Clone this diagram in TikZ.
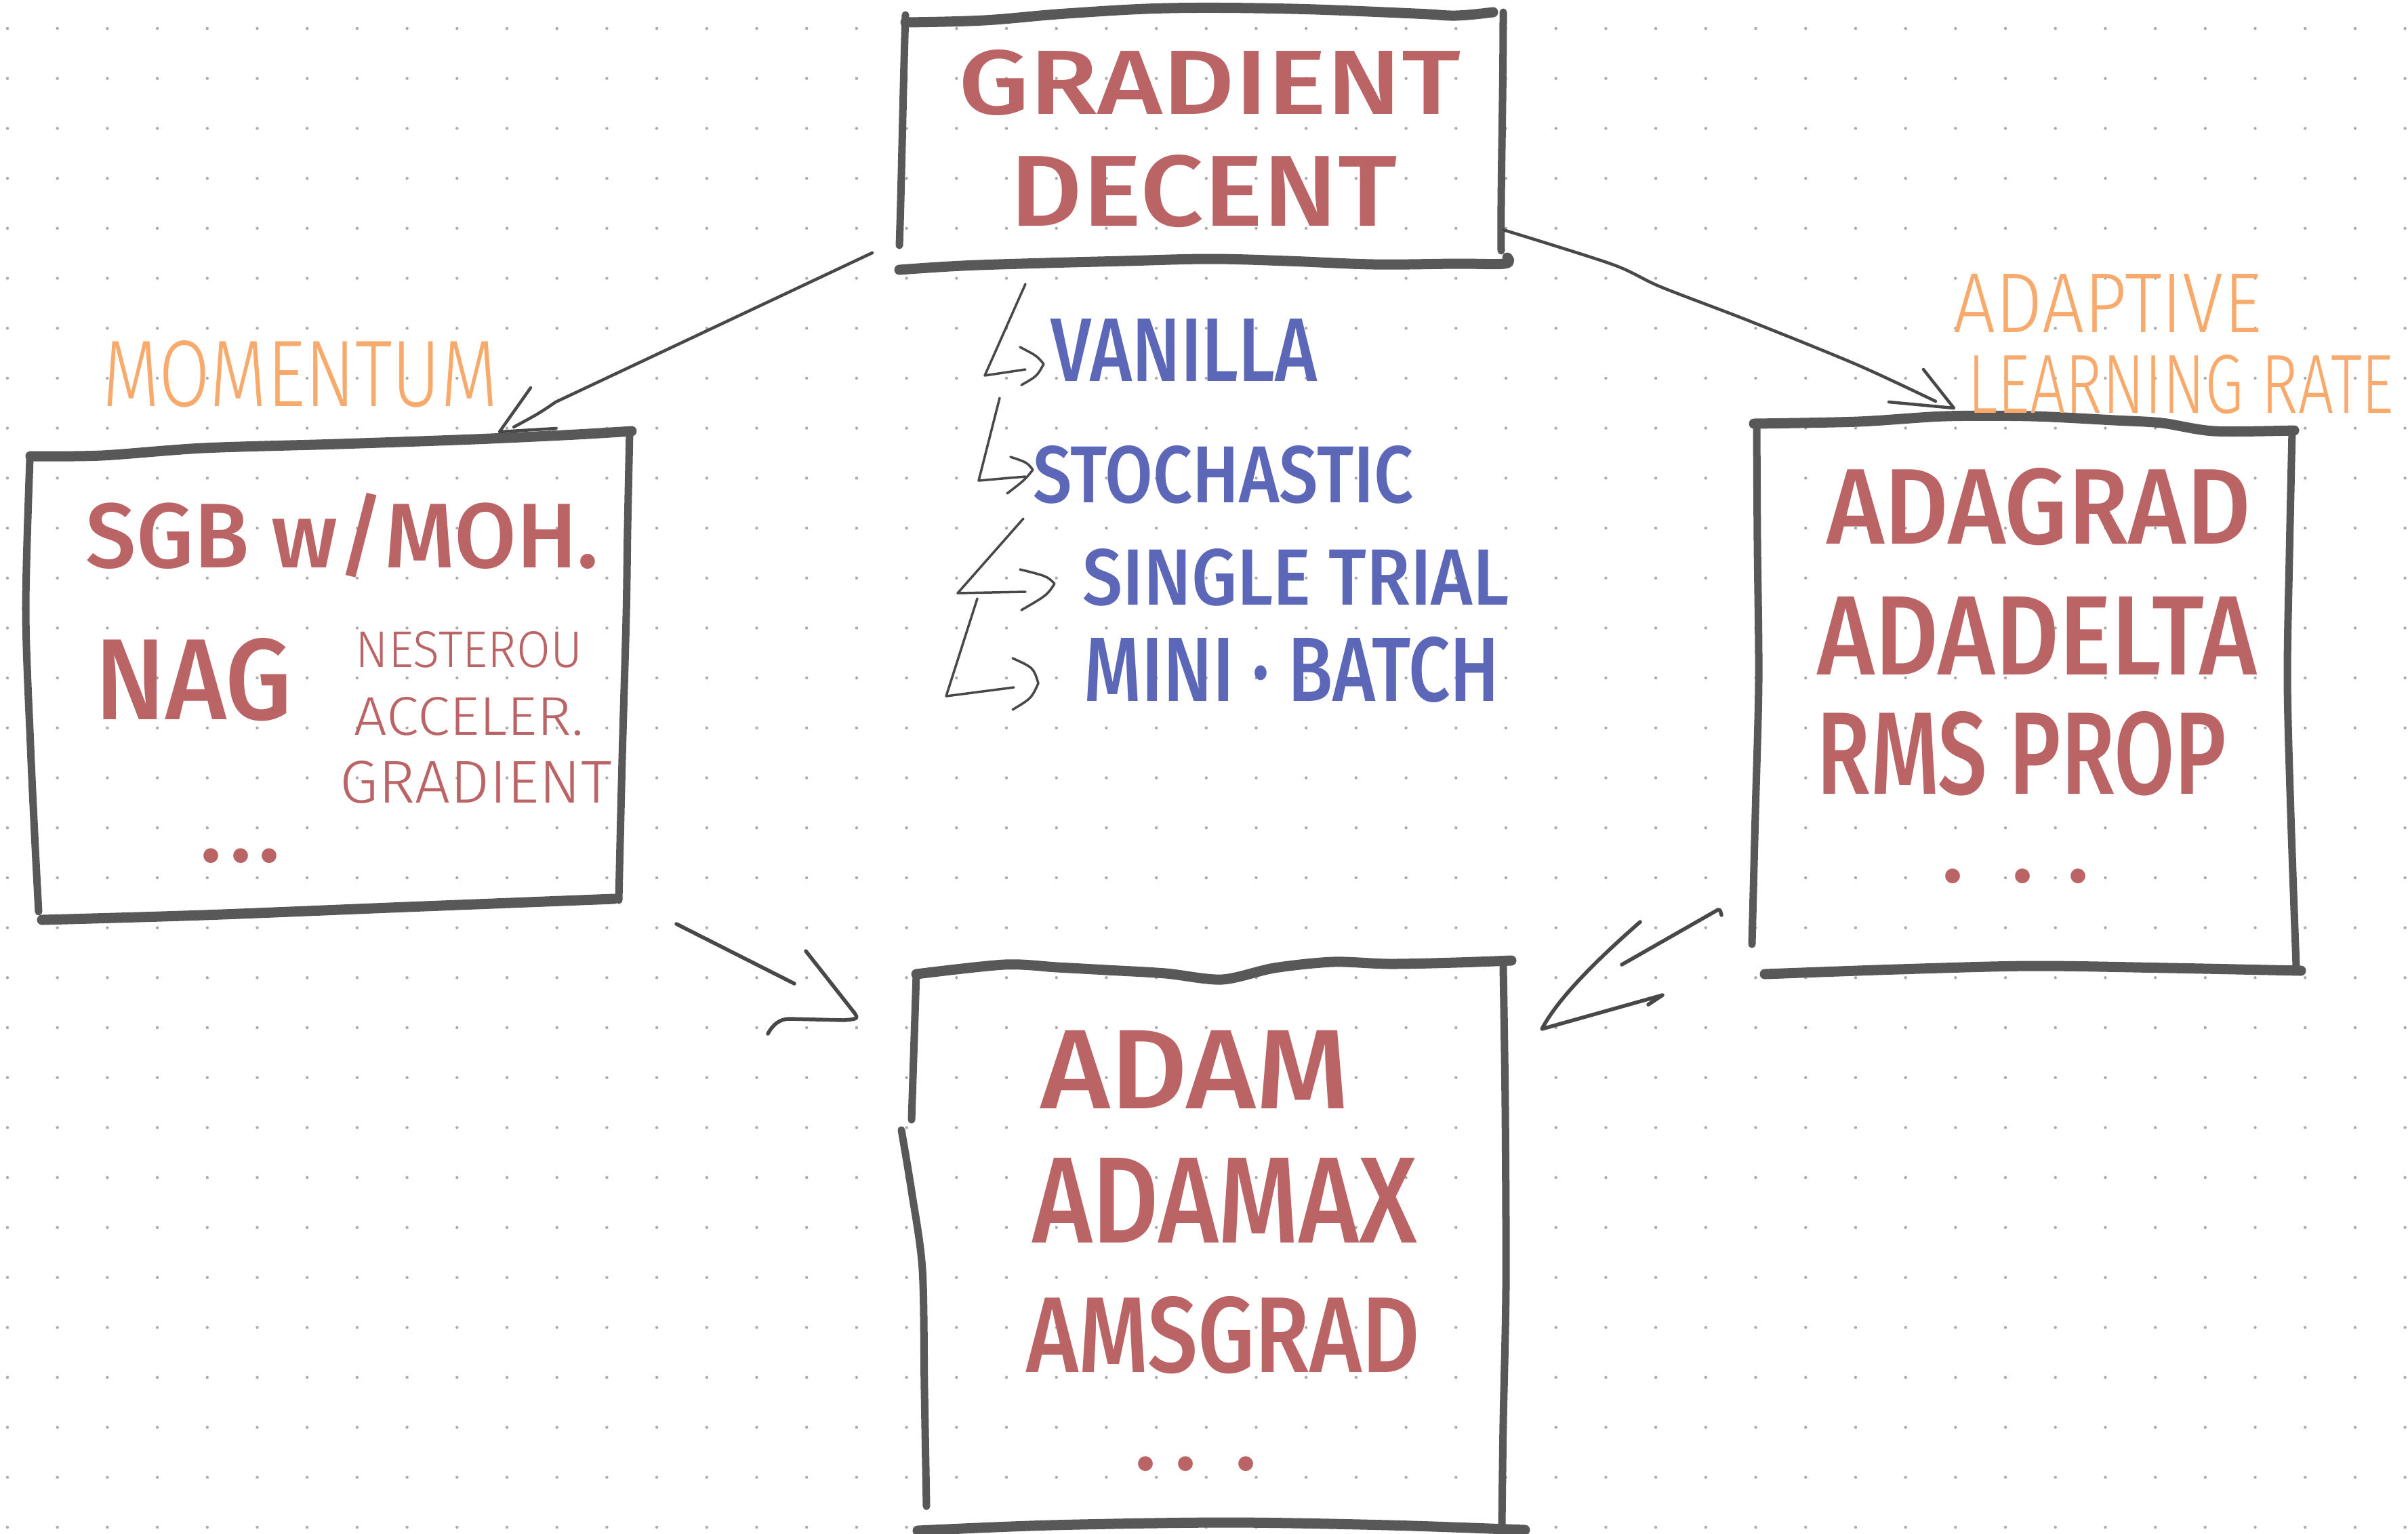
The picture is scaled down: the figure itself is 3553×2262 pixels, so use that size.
\documentclass[tikz,border=0pt]{standalone}
\usepackage{fontspec}
\usepackage{graphicx}
\setmainfont{Fira Sans}
\IfFontExistsTF{Fira Sans Medium}{\newfontfamily\thickf{Fira Sans Medium}}{\newfontfamily\thickf{Fira Sans}}
\IfFontExistsTF{Fira Sans Light}{\newfontfamily\thinf{Fira Sans Light}}{\newfontfamily\thinf{Fira Sans}}
\definecolor{rtxtc}{RGB}{186,100,102}
\definecolor{btxtc}{RGB}{92,103,184}
\definecolor{otxtc}{RGB}{247,170,108}
\definecolor{boxc}{RGB}{88,88,88}
\definecolor{connc}{RGB}{72,72,72}
\definecolor{dotc}{RGB}{170,170,170}
\newcommand\fitbox[3]{\resizebox{#1cm}{#2cm}{#3}}
\tikzset{
  rtxt/.style={text=rtxtc, font=\thickf, inner sep=0pt},
  rthin/.style={text=rtxtc, font=\thinf, inner sep=0pt},
  btxt/.style={text=btxtc, font=\thickf, inner sep=0pt},
  otxt/.style={text=otxtc, font=\thinf, inner sep=0pt},
  rdots/.style={text=rtxtc, font=\thickf\fontsize{38}{38}\selectfont, inner sep=0pt},
  edge/.style={draw=boxc, line width=0.15cm, line cap=round, line join=round},
  side/.style={draw=boxc, line width=0.11cm, line cap=round, line join=round},
  conn/.style={draw=connc, line width=0.045cm, line cap=round, line join=round},
  bent/.style={draw=connc, line width=0.035cm, line cap=round, line join=round},
  area/.style={draw=none, inner sep=0pt}
}
\begin{document}
\begin{tikzpicture}[x=0.01cm, y=-0.01cm]
\useasboundingbox (0,0) rectangle (3553,2262);
\fill[white] (0,0) rectangle (3553,2262);
% dot grid
\foreach \i in {0,...,48} {
  \foreach \j in {0,...,30} {
    \fill[dotc] (11+73.7*\i, 42+73.7*\j) circle (0.022cm);
  }
}
% box areas (named)
\node[area, minimum width=8.8cm, minimum height=3.6cm] (gdbox) at (1775,208) {};
\node[area, minimum width=8.8cm, minimum height=6.9cm] (mombox) at (485,995) {};
\node[area, minimum width=7.9cm, minimum height=8.0cm] (adabox) at (2988,1030) {};
\node[area, minimum width=8.7cm, minimum height=8.2cm] (adambox) at (1786,1840) {};

% ---------- top box: GRADIENT DECENT ----------
\draw[edge] plot[smooth, tension=0.6] coordinates {(1336,33) (1452,30) (1573,20) (1724,12) (1906,13) (2088,20) (2148,23) (2203,18)};
\draw[side] (1336,22) .. controls (1332,150) and (1330,280) .. (1327,362);
\draw[side] (2218,18) .. controls (2218,150) and (2214,280) .. (2215,370);
\draw[edge] plot[smooth, tension=0.6] coordinates {(1327,398) (1420,392) (1542,388) (1660,385) (1785,382) (1900,385) (2027,390) (2150,389) (2220,389) (2224,380)};

% ---------- left box ----------
\draw[edge] plot[smooth, tension=0.5] coordinates {(45,673) (150,672) (300,661) (500,655) (700,648) (850,641) (932,636)};
\draw[side] plot[smooth, tension=0.5] coordinates {(929,637) (926,780) (924,909) (918,1120) (913,1328)};
\draw[edge] plot[smooth, tension=0.5] coordinates {(62,1357) (300,1350) (600,1338) (906,1326)};
\draw[side] plot[smooth, tension=0.5] coordinates {(44,678) (38,900) (45,1100) (52,1250) (57,1345)};

% ---------- right box ----------
\draw[edge] plot[smooth, tension=0.5] coordinates {(2588,625) (2742,622) (2870,614) (2998,614) (3120,620) (3190,624) (3267,636) (3385,635)};
\draw[side] plot[smooth, tension=0.5] coordinates {(2592,629) (2593,800) (2595,1004) (2590,1200) (2585,1393)};
\draw[side] plot[smooth, tension=0.5] coordinates {(3382,635) (3378,820) (3375,1004) (3380,1200) (3388,1425)};
\draw[edge] plot[smooth, tension=0.5] coordinates {(2604,1437) (2800,1430) (2998,1425) (3200,1428) (3395,1432)};

% ---------- bottom box ----------
\draw[edge] plot[smooth, tension=0.5] coordinates {(1352,1437) (1482,1423) (1560,1427) (1633,1431) (1720,1436) (1803,1445) (1880,1428) (1967,1419) (2050,1422) (2148,1420) (2230,1417)};
\draw[side] (1352,1437) -- (1345,1652);
\draw[side] plot[smooth, tension=0.5] coordinates {(1330,1667) (1345,1757) (1361,1873) (1364,2050) (1367,2222)};
\draw[side] plot[smooth, tension=0.5] coordinates {(2218,1426) (2221,1635) (2222,1900) (2218,2100) (2216,2250)};
\draw[edge] plot[smooth, tension=0.5] coordinates {(1354,2258) (1550,2250) (1810,2246) (2050,2250) (2250,2257)};

% ---------- texts ----------
\node[rtxt] (gd1) at (1785,122) {\fitbox{7.40}{0.95}{GRADIENT}};
\node[rtxt] (gd2) at (1776,282) {\fitbox{5.70}{1.05}{DECENT}};

\node[otxt] (momlab) at (443,552) {\fitbox{5.83}{0.97}{MOMENTUM}};
\node[rtxt] (sgd) at (505,790) {\fitbox{7.56}{1.10}{SGB w/MOH.}};
\node[rtxt] (nag) at (286,1003) {\fitbox{2.90}{1.20}{NAG}};
\node[rthin] (nes) at (692,958) {\fitbox{3.34}{0.53}{NESTEROU}};
\node[rthin] (acc) at (692,1057) {\fitbox{3.38}{0.56}{ACCELER.}};
\node[rthin] (grd) at (702,1154) {\fitbox{4.01}{0.62}{GRADIENT}};
\node[rdots] (mdots) at (355,1263) {.\hspace{0.12cm}.\hspace{0.10cm}.};

\node[btxt] (van) at (1747,516) {\fitbox{3.93}{0.92}{VANILLA}};
\node[btxt] (sto) at (1805,700) {\fitbox{5.61}{0.84}{STOCHASTIC}};
\node[btxt] (sin) at (1912,852) {\fitbox{6.29}{0.83}{SINGLE TRIAL}};
\node[btxt] (mini) at (1906,988) {\fitbox{6.12}{0.95}{MINI · BATCH}};

\node[otxt] (adal1) at (3110,447) {\fitbox{4.54}{0.86}{ADAPTIVE}};
\node[otxt] (adal2) at (3218,567) {\fitbox{6.28}{0.86}{LEARNING RATE}};
\node[rtxt] (agr) at (3008,748) {\fitbox{6.25}{1.12}{ADAGRAD}};
\node[rtxt] (ade) at (3006,938) {\fitbox{6.48}{1.15}{ADADELTA}};
\node[rtxt] (rms) at (2983,1112) {\fitbox{6.04}{1.22}{RMS PROP}};
\node[rdots] (rdots) at (2974,1293) {.\hspace{0.71cm}.\hspace{0.49cm}.};

\node[rtxt] (adam) at (1763,1578) {\fitbox{4.55}{1.15}{ADAM}};
\node[rtxt] (adamax) at (1807,1771) {\fitbox{5.67}{1.25}{ADAMAX}};
\node[rtxt] (ams) at (1805,1970) {\fitbox{5.80}{1.12}{AMSGRAD}};
\node[rdots] (bdots) at (1765,2160) {.\hspace{0.27cm}.\hspace{0.57cm}.};

% ---------- connectors ----------
% top box -> momentum box
\coordinate (c1s) at (1287,373);
\coordinate (c1m) at (820,593);
\coordinate (c1e) at (758,630);
\coordinate (c1t) at (737,637);
\draw[conn] (c1s) -- (c1m) .. controls (795,610) .. (c1e);
\draw[conn] (783,572) -- (c1t) -- (820,632);

% top box -> adaptive box
\coordinate (c2s) at (2218,339);
\coordinate (c2t) at (2883,602);
\draw[conn] plot[smooth, tension=0.5] coordinates {(c2s) (2379,390) (2450,423) (2580,473) (2740,538) (2856,592)};
\draw[conn] (2838,545) -- (c2t) -- (2787,593);

% momentum box -> adam box
\coordinate (c3s) at (998,1363);
\coordinate (c3e) at (1172,1451);
\draw[conn, line width=0.055cm] (c3s) -- (c3e);
\draw[conn, line width=0.055cm] (1189,1403) -- (1255,1487) .. controls (1268,1503) .. (1245,1505) -- (1165,1503) .. controls (1150,1503) and (1140,1512) .. (1133,1525);

% adaptive box -> adam box
\coordinate (c4s) at (2535,1342);
\coordinate (c4e) at (2393,1423);
\draw[conn, line width=0.055cm] (2540,1350) .. controls (2538,1342) .. (c4s) -- (c4e);
\draw[conn, line width=0.055cm] (2420,1360) .. controls (2340,1430) and (2295,1480) .. (2275,1518) -- (2453,1468) -- (2432,1482);

% ---------- bent arrows in the list ----------
\coordinate (a1t) at (1540,537);
\draw[bent] (1513,419) -- (1453,554) -- (1513,545);
\draw[bent] (1505,512) .. controls (1530,525) .. (a1t) .. controls (1530,555) .. (1507,568);

\coordinate (a2t) at (1524,693);
\draw[bent] (1475,587) -- (1444,709) -- (1513,703);
\draw[bent] (1491,674) .. controls (1515,682) .. (a2t) .. controls (1512,708) .. (1486,728);

\coordinate (a3t) at (1556,861);
\draw[bent] (1510,765) -- (1413,875) -- (1513,873);
\draw[bent] (1505,840) .. controls (1545,850) .. (a3t) .. controls (1545,878) .. (1507,900);

\coordinate (a4t) at (1532,1008);
\draw[bent] (1442,883) -- (1396,1027) -- (1496,1014);
\draw[bent] (1494,971) .. controls (1525,985) .. (a4t) .. controls (1522,1030) .. (1494,1047);
\end{tikzpicture}
\end{document}
